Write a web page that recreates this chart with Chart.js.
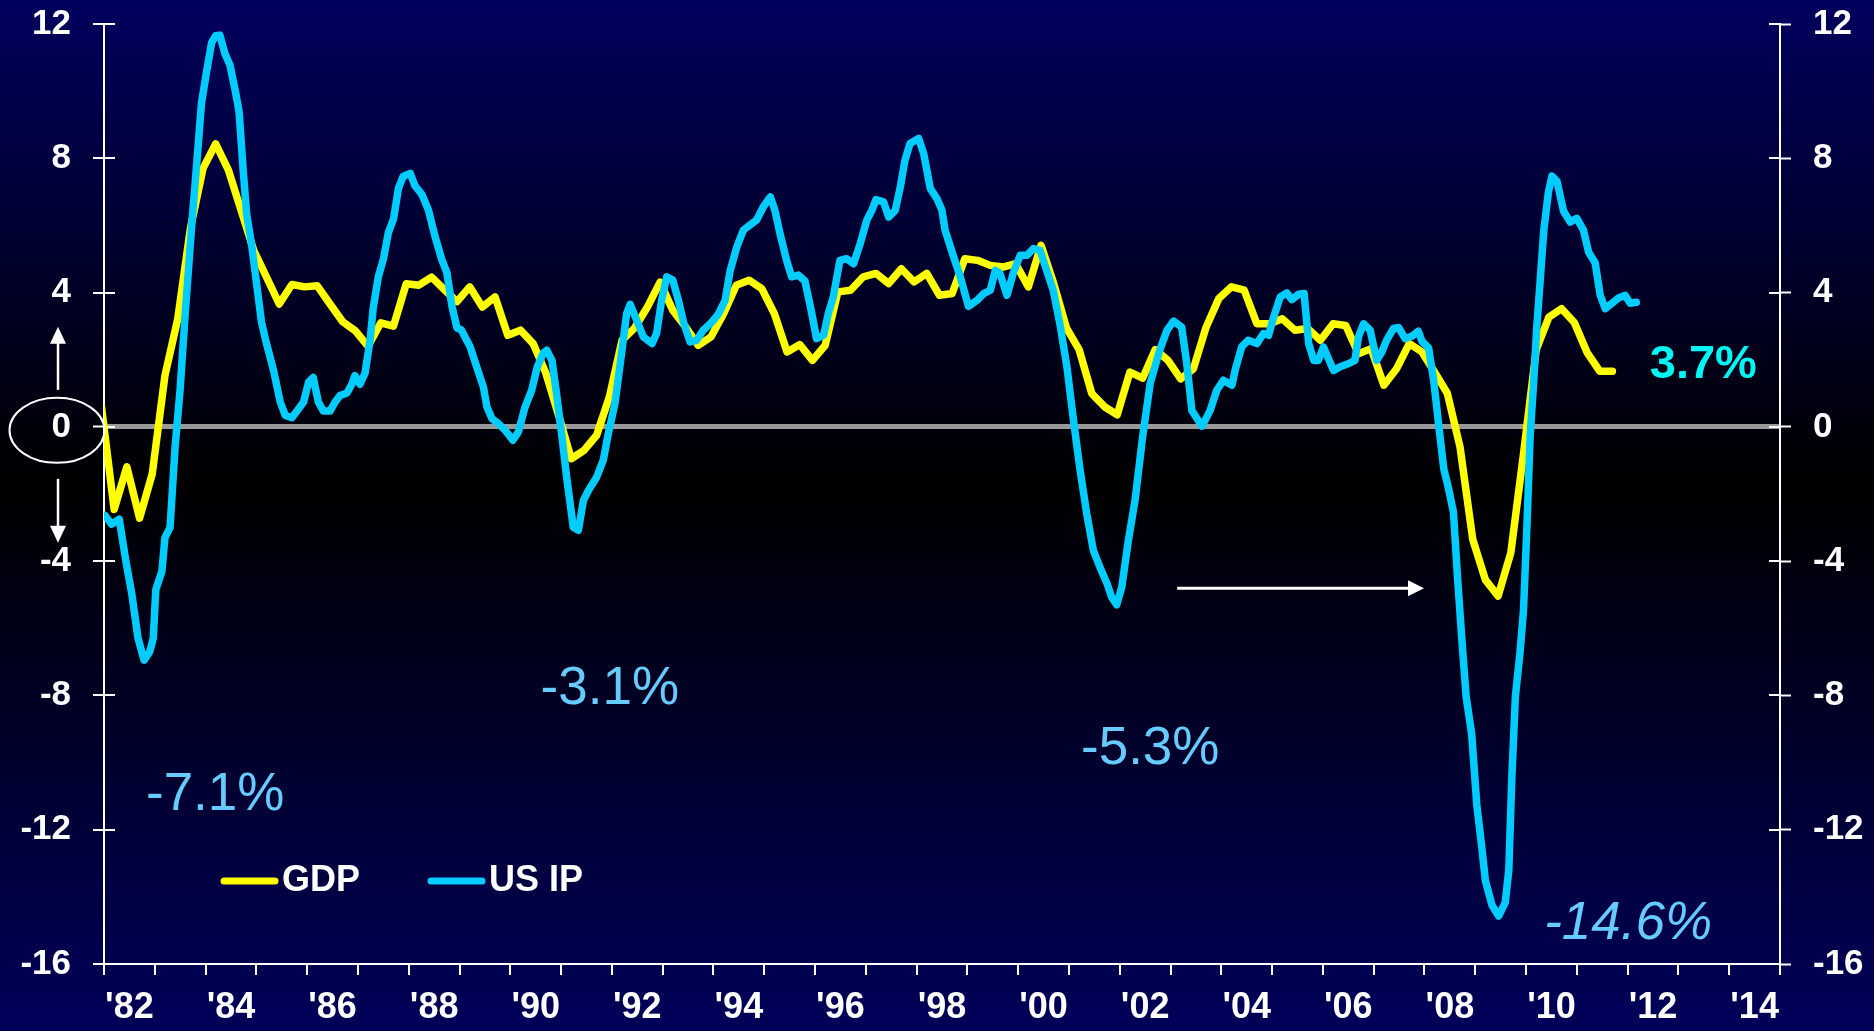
<!DOCTYPE html>
<html>
<head>
<meta charset="utf-8">
<script src="https://cdn.jsdelivr.net/npm/chart.js@4.4.1/dist/chart.umd.min.js"></script>
<style>
html,body{margin:0;padding:0;background:#000;overflow:hidden;}
#wrap{width:1874px;height:1031px;position:relative;}
</style>
</head>
<body>
<div id="wrap"><canvas id="c" width="1874" height="1031"></canvas></div>
<script>
// ---------- DATA ----------
const xLabelYears = [1982,1984,1986,1988,1990,1992,1994,1996,1998,2000,2002,2004,2006,2008,2010,2012,2014];
const yTickValues = [-16,-12,-8,-4,0,4,8,12];

// GDP, quarterly (first point = 4Q81, plotted near quarter end)
const gdpFirstQuarter = 1981.95;
const gdpValues = [
  0.6,-2.46,-1.19,-2.72,-1.4,1.53,3.2,5.9,7.7,8.43,7.65,6.45,5.25,4.46,3.66,4.24,
  4.17,4.2,3.66,3.13,2.86,2.4,3.1,3.0,4.26,4.22,4.46,4.09,3.73,4.17,3.57,3.87,
  2.73,2.88,2.48,1.6,0.35,-0.95,-0.7,-0.25,0.89,2.58,2.95,3.57,4.31,3.47,2.98,2.43,
  2.68,3.37,4.22,4.37,4.12,3.37,2.23,2.45,1.98,2.43,4.02,4.07,4.47,4.57,4.27,4.71,
  4.32,4.57,3.92,3.97,5.01,4.96,4.81,4.76,4.86,4.17,5.41,4.27,2.95,2.3,0.99,0.6,
  0.36,1.63,1.45,2.3,1.98,1.43,1.73,2.97,3.82,4.17,4.07,3.07,3.07,3.22,2.88,2.93,
  2.58,3.07,3.02,2.18,2.33,1.24,1.73,2.48,2.23,1.63,1.0,-0.6,-3.35,-4.56,-5.04,-3.75,
  -0.8,2.3,3.27,3.52,3.11,2.22,1.66,1.66
];

// US industrial production, read at the line's vertices (year, % y/y)
const ipYears = [
  1982.02,1982.15,1982.3,1982.42,1982.55,1982.67,1982.79,1982.9,1982.97,1983.02,1983.14,1983.2,1983.3,1983.4,1983.5,1983.6,
  1983.73,1983.83,1983.92,1984.02,1984.12,1984.2,1984.28,1984.38,1984.48,1984.58,1984.66,1984.74,1984.81,1984.91,1985.01,1985.1,
  1985.18,1985.34,1985.47,1985.57,1985.7,1985.8,1985.93,1986.03,1986.12,1986.22,1986.32,1986.45,1986.55,1986.65,1986.78,1986.88,
  1986.94,1987.04,1987.14,1987.24,1987.3,1987.4,1987.5,1987.6,1987.7,1987.8,1987.89,1988.03,1988.12,1988.26,1988.39,1988.52,
  1988.65,1988.75,1988.85,1988.95,1989.04,1989.21,1989.34,1989.47,1989.54,1989.64,1989.77,1989.9,1990.05,1990.16,1990.29,1990.42,
  1990.53,1990.65,1990.72,1990.82,1990.91,1991.01,1991.11,1991.24,1991.34,1991.44,1991.54,1991.7,1991.83,1991.93,1992.06,1992.19,
  1992.29,1992.36,1992.49,1992.62,1992.79,1992.88,1992.98,1993.08,1993.2,1993.31,1993.41,1993.54,1993.67,1993.8,1993.97,1994.1,
  1994.23,1994.33,1994.46,1994.59,1994.72,1994.85,1994.98,1995.12,1995.21,1995.31,1995.44,1995.54,1995.67,1995.8,1995.92,1996.03,
  1996.17,1996.26,1996.36,1996.49,1996.62,1996.76,1996.89,1997.02,1997.12,1997.2,1997.35,1997.45,1997.58,1997.68,1997.77,1997.87,
  1998.04,1998.14,1998.27,1998.4,1998.5,1998.56,1998.73,1998.86,1999.02,1999.19,1999.32,1999.45,1999.55,1999.64,1999.78,1999.91,
  2000.04,2000.17,2000.3,2000.43,2000.56,2000.69,2000.83,2000.96,2001.09,2001.22,2001.35,2001.48,2001.61,2001.75,2001.84,2001.94,
  2002.04,2002.17,2002.3,2002.45,2002.6,2002.78,2002.93,2003.06,2003.22,2003.32,2003.42,2003.62,2003.78,2003.91,2004.04,2004.21,
  2004.27,2004.4,2004.53,2004.7,2004.83,2004.93,2005.03,2005.16,2005.29,2005.39,2005.52,2005.63,2005.72,2005.82,2005.91,2006.01,
  2006.21,2006.35,2006.5,2006.63,2006.7,2006.8,2006.93,2007.06,2007.16,2007.26,2007.39,2007.49,2007.62,2007.75,2007.88,2007.95,
  2008.08,2008.18,2008.28,2008.38,2008.47,2008.57,2008.65,2008.74,2008.82,2008.93,2009.03,2009.13,2009.2,2009.33,2009.46,2009.59,
  2009.66,2009.72,2009.79,2009.88,2009.95,2010.02,2010.08,2010.15,2010.21,2010.28,2010.35,2010.44,2010.51,2010.61,2010.74,2010.87,
  2011.0,2011.13,2011.23,2011.36,2011.46,2011.56,2011.69,2011.82,2011.95,2012.05,2012.17
];
const ipValues = [
  -2.64,-2.9,-2.75,-3.9,-5.0,-6.3,-6.95,-6.7,-6.3,-4.85,-4.3,-3.3,-3.0,-0.6,1.14,3.4,
  6.06,7.92,9.65,10.58,11.45,11.65,11.67,11.12,10.78,10.05,9.39,7.65,6.32,5.39,4.2,3.13,
  2.6,1.67,0.74,0.34,0.27,0.47,0.74,1.34,1.47,0.74,0.47,0.47,0.74,0.94,1.0,1.27,
  1.53,1.27,1.6,2.6,3.53,4.46,4.99,5.79,6.19,7.12,7.46,7.55,7.19,6.92,6.45,5.66,
  4.99,4.6,3.6,2.95,2.88,2.38,1.78,1.19,0.59,0.24,0.09,-0.1,-0.4,-0.15,0.59,1.09,
  1.78,2.2,2.28,1.98,0.99,-0.2,-1.5,-2.99,-3.08,-2.19,-1.89,-1.5,-1.0,-0.2,0.69,2.18,
  3.37,3.65,3.17,2.68,2.48,2.78,3.77,4.47,4.37,3.77,3.12,2.53,2.58,2.88,3.12,3.37,
  3.77,4.66,5.36,5.86,6.01,6.16,6.55,6.85,6.45,5.76,4.96,4.47,4.52,4.35,3.5,2.63,
  2.73,3.37,3.87,4.96,5.01,4.86,5.46,6.16,6.45,6.77,6.7,6.25,6.45,7.15,7.94,8.44,
  8.59,8.14,7.1,6.8,6.45,5.86,5.06,4.47,3.59,3.77,3.97,4.07,4.66,4.57,3.92,4.61,
  5.11,5.11,5.31,5.26,4.66,4.07,3.0,1.78,0.19,-1.3,-2.59,-3.68,-4.18,-4.67,-5.07,-5.3,
  -4.77,-3.38,-2.2,-0.3,1.3,2.25,2.88,3.15,2.97,1.88,0.49,0.02,0.49,1.09,1.39,1.24,
  1.68,2.38,2.58,2.48,2.78,2.73,3.27,3.87,3.99,3.79,3.95,3.97,2.48,1.98,1.98,2.38,
  1.68,1.8,1.88,1.98,2.68,3.07,2.88,1.98,2.23,2.6,2.93,2.96,2.63,2.7,2.85,2.55,
  2.35,1.4,0.05,-1.25,-1.81,-2.54,-4.48,-6.42,-8.03,-9.16,-11.26,-12.55,-13.52,-14.25,-14.57,-14.17,
  -13.2,-10.45,-8.03,-6.74,-5.45,-2.86,-0.28,1.33,2.95,4.4,5.86,6.99,7.47,7.31,6.42,6.1,
  6.21,5.86,5.21,4.89,3.92,3.52,3.68,3.84,3.92,3.68,3.71
];

// ---------- BUILD ----------
const FONT = "'Liberation Sans', Arial, Helvetica, sans-serif";
const gdpData = gdpValues.map((v, i) => ({x: gdpFirstQuarter + i * 0.25, y: v}));
const ipData = ipYears.map((yr, i) => ({x: yr, y: ipValues[i]}));

const bgPlugin = {
  id: 'bg',
  beforeDraw(chart) {
    const {ctx, width, height} = chart;
    const g = ctx.createLinearGradient(0, 0, 0, height);
    g.addColorStop(0, '#00005e');
    g.addColorStop(0.47, '#000000');
    g.addColorStop(1, '#00005a');
    ctx.save();
    ctx.fillStyle = g;
    ctx.fillRect(0, 0, width, height);
    ctx.restore();
  }
};

function arrowHead(ctx, x, y, dx, dy, len, half) {
  const bx = x - dx * len, by = y - dy * len;
  const px = -dy, py = dx;
  ctx.beginPath();
  ctx.moveTo(x, y);
  ctx.lineTo(bx + px * half, by + py * half);
  ctx.lineTo(bx - px * half, by - py * half);
  ctx.closePath();
  ctx.fill();
}

const decorPlugin = {
  id: 'decor',
  beforeDatasetsDraw(chart) {
    // inner half of the y-axis tick marks (ticks cross the axis)
    const ctx = chart.ctx;
    ctx.save();
    ctx.strokeStyle = '#ffffff';
    ctx.lineWidth = 2;
    ['y', 'y2'].forEach(id => {
      const s = chart.scales[id];
      const ax = id === 'y' ? s.right : s.left;
      const dir = id === 'y' ? 1 : -1;
      s.ticks.forEach(t => {
        const py = Math.round(s.getPixelForValue(t.value));
        ctx.beginPath();
        ctx.moveTo(ax, py);
        ctx.lineTo(ax + dir * 11, py);
        ctx.stroke();
      });
    });
    ctx.restore();
  },
  afterDatasetsDraw(chart) {
    const ctx = chart.ctx;
    const xs = chart.scales.x, ys = chart.scales.y;
    ctx.save();
    const notes = [
      {t: '-7.1%', x: 1984.19, y: -10.98, f: '53px ' + FONT, c: '#66ccff'},
      {t: '-3.1%', x: 1991.96, y: -7.83, f: '53px ' + FONT, c: '#66ccff'},
      {t: '-5.3%', x: 2002.6, y: -9.6, f: '53px ' + FONT, c: '#66ccff'},
      {t: '-14.6%', x: 2012.01, y: -14.83, f: 'italic 53px ' + FONT, c: '#66ccff'},
      {t: '3.7%', x: 2013.49, y: 1.83, f: 'bold 47px ' + FONT, c: '#00f5f5'}
    ];
    ctx.textAlign = 'center';
    ctx.textBaseline = 'middle';
    notes.forEach(n => {
      ctx.font = n.f;
      ctx.fillStyle = n.c;
      ctx.fillText(n.t, xs.getPixelForValue(n.x), ys.getPixelForValue(n.y));
    });
    // horizontal arrow
    const ay = ys.getPixelForValue(-4.81);
    const ax0 = xs.getPixelForValue(2003.13), ax1 = xs.getPixelForValue(2007.99);
    ctx.strokeStyle = '#ffffff';
    ctx.fillStyle = '#ffffff';
    ctx.lineWidth = 3;
    ctx.beginPath();
    ctx.moveTo(ax0, ay);
    ctx.lineTo(ax1 - 14, ay);
    ctx.stroke();
    arrowHead(ctx, ax1, ay, 1, 0, 16, 8);

    // legend
    const legendItems = [
      {label: 'GDP', color: '#ffff00', x0: 221},
      {label: 'US IP', color: '#00ccff', x0: 428}
    ];
    const ly = 881;
    ctx.font = 'bold 36px ' + FONT;
    ctx.textAlign = 'left';
    ctx.textBaseline = 'middle';
    legendItems.forEach(it => {
      ctx.strokeStyle = it.color;
      ctx.lineWidth = 7;
      ctx.lineCap = 'round';
      ctx.beginPath();
      ctx.moveTo(it.x0 + 3, ly);
      ctx.lineTo(it.x0 + 54, ly);
      ctx.stroke();
      ctx.fillStyle = '#ffffff';
      ctx.fillText(it.label, it.x0 + 61, ly);
    });
    ctx.restore();
  },
  afterDraw(chart) {
    // oval around the zero label and up / down arrows
    const ctx = chart.ctx;
    const ys = chart.scales.y;
    const zy = ys.getPixelForValue(0);
    ctx.save();
    ctx.strokeStyle = '#ffffff';
    ctx.fillStyle = '#ffffff';
    ctx.lineWidth = 2;
    ctx.beginPath();
    ctx.ellipse(57, zy + 3.5, 47.5, 32.5, 0, 0, Math.PI * 2);
    ctx.stroke();
    ctx.lineWidth = 2.5;
    ctx.beginPath();
    ctx.moveTo(58, zy - 37);
    ctx.lineTo(58, zy - 84);
    ctx.stroke();
    arrowHead(ctx, 58, zy - 100, 0, -1, 17, 8);
    ctx.beginPath();
    ctx.moveTo(58, zy + 52);
    ctx.lineTo(58, zy + 100);
    ctx.stroke();
    arrowHead(ctx, 58, zy + 116, 0, 1, 17, 8);
    ctx.restore();
  }
};

const yTickFont = {family: FONT, size: 35, weight: 'bold'};

new Chart(document.getElementById('c'), {
  type: 'line',
  data: {
    datasets: [
      {label: 'US IP', data: ipData, borderColor: '#00ccff', borderWidth: 7.5, pointRadius: 0,
       tension: 0, borderJoinStyle: 'round', borderCapStyle: 'round', order: 0, yAxisID: 'y'},
      {label: 'GDP', data: gdpData, borderColor: '#ffff00', borderWidth: 7.5, pointRadius: 0,
       tension: 0, borderJoinStyle: 'round', borderCapStyle: 'round', order: 1, yAxisID: 'y'}
    ]
  },
  options: {
    responsive: false,
    animation: false,
    events: [],
    layout: {padding: {top: 24, left: 0, right: 0, bottom: 0}},
    plugins: {legend: {display: false}, tooltip: {enabled: false}},
    scales: {
      x: {
        type: 'linear', min: 1982, max: 2015, position: 'bottom',
        afterBuildTicks(scale) {
          const t = [];
          for (let yr = 1982; yr < 2015; yr++) t.push({value: yr + 0.5});
          scale.ticks = t;
        },
        afterFit(scale) { scale.height = 67; scale.paddingLeft = 0; scale.paddingRight = 0; },
        ticks: {
          autoSkip: false, maxRotation: 0, minRotation: 0, padding: 11,
          color: '#ffffff', font: {family: FONT, size: 36, weight: 'bold'},
          callback(v) {
            const yr = Math.floor(v);
            return xLabelYears.includes(yr) ? "'" + String(yr).slice(2) : '';
          }
        },
        grid: {display: true, offset: true, drawOnChartArea: false, drawTicks: true,
               tickLength: 11, tickColor: '#ffffff', tickWidth: 2, color: '#ffffff', lineWidth: 2},
        border: {display: true, color: '#ffffff', width: 2}
      },
      y: {
        type: 'linear', position: 'left', min: -16, max: 12,
        afterBuildTicks(scale) { scale.ticks = yTickValues.map(v => ({value: v})); },
        afterFit(scale) { scale.width = 104; scale.paddingTop = 0; scale.paddingBottom = 0; },
        ticks: {color: '#ffffff', font: yTickFont, padding: 22, stepSize: 4},
        grid: {
          drawOnChartArea: true, drawTicks: true, tickLength: 11, tickColor: '#ffffff', tickWidth: 2,
          color: (c) => (c.tick && c.tick.value === 0) ? '#999999' : 'rgba(0,0,0,0)',
          lineWidth: (c) => (c.tick && c.tick.value === 0) ? 5 : 0
        },
        border: {display: true, color: '#ffffff', width: 2}
      },
      y2: {
        type: 'linear', position: 'right', min: -16, max: 12,
        afterBuildTicks(scale) { scale.ticks = yTickValues.map(v => ({value: v})); },
        afterFit(scale) { scale.width = 94; scale.paddingTop = 0; scale.paddingBottom = 0; },
        ticks: {color: '#ffffff', font: yTickFont, padding: 22, stepSize: 4},
        grid: {drawOnChartArea: false, drawTicks: true, tickLength: 11, tickColor: '#ffffff', tickWidth: 2},
        border: {display: true, color: '#ffffff', width: 2}
      }
    }
  },
  plugins: [bgPlugin, decorPlugin]
});
</script>
</body>
</html>
